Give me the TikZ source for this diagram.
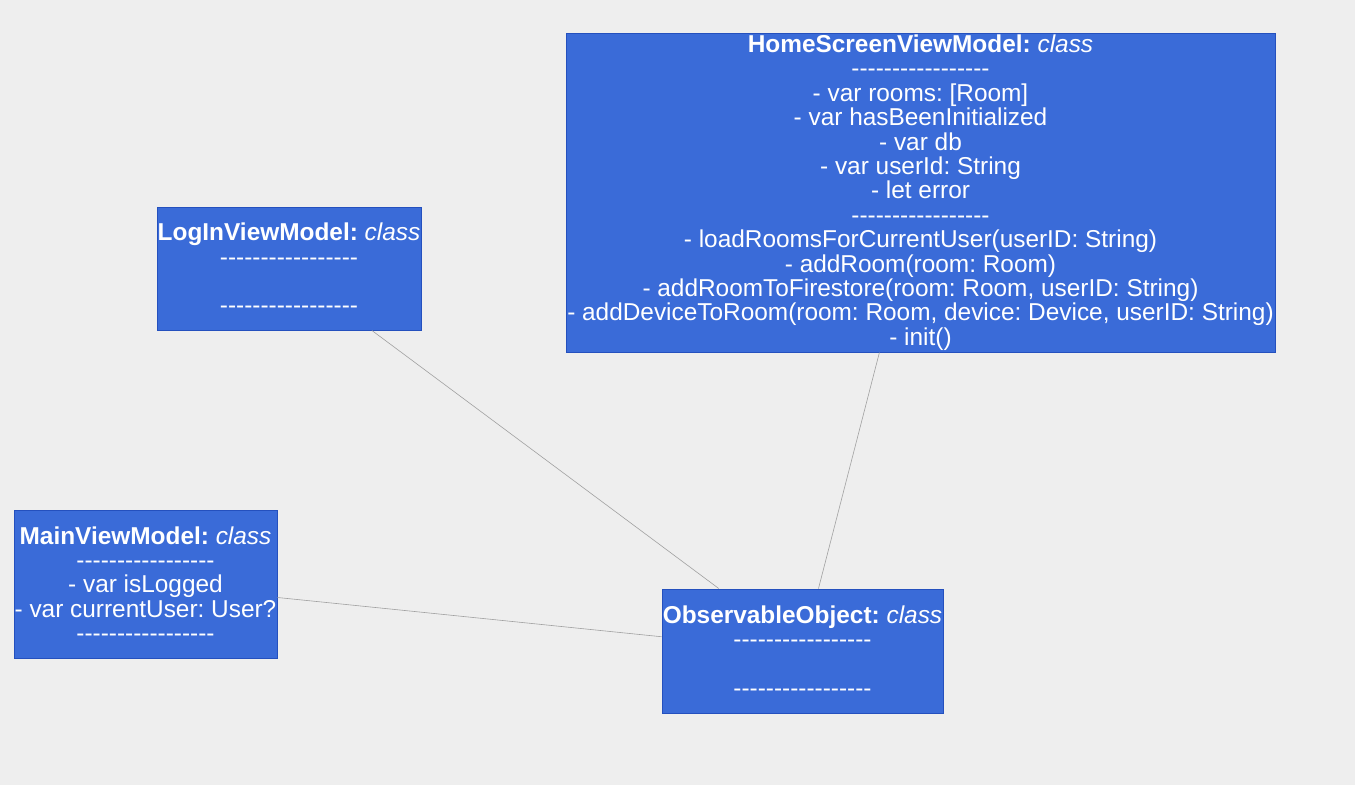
\documentclass[tikz,border=0pt]{standalone}
\usepackage{fontspec}
\setmainfont{Liberation Sans}[Ligatures=TeXOff]
\frenchspacing
\definecolor{bgc}{RGB}{238,238,238}
\definecolor{boxfill}{RGB}{58,107,216}
\definecolor{boxline}{RGB}{36,80,190}
\definecolor{linkc}{RGB}{160,160,160}
\tikzset{
  umlbox/.style={draw=boxline, fill=boxfill, line width=1pt, text=white,
    align=center, inner sep=0pt, font=\fontsize{24.4}{24.4}\selectfont\frenchspacing},
  link/.style={draw=linkc, line width=0.6pt}
}
\begin{document}
\begin{tikzpicture}[x=1pt,y=-1pt]
\path[fill=bgc] (0,0) rectangle (1355,785);
\useasboundingbox (0,0) rectangle (1355,785);

\node[umlbox, minimum width=709pt, minimum height=319pt] (home) at (920.5,192.5)
 {\textbf{HomeScreenViewModel:} \textit{class}\\
  -----------------\\
  - var rooms: [Room]\\
  - var hasBeenInitialized\\
  - var db\\
  - var userId: String\\
  - let error\\
  -----------------\\
  - loadRoomsForCurrentUser(userID: String)\\
  - addRoom(room: Room)\\
  - addRoomToFirestore(room: Room, userID: String)\\
  - addDeviceToRoom(room: Room, device: Device, userID: String)\\
  - init()};

\node[umlbox, minimum width=264pt, minimum height=123pt] (login) at (289,268.5)
 {\textbf{LogInViewModel:} \textit{class}\\
  -----------------\\
  \strut\\
  -----------------};

\node[umlbox, minimum width=263pt, minimum height=148pt] (main) at (145.5,584)
 {\textbf{MainViewModel:} \textit{class}\\
  -----------------\\
  - var isLogged\\
  - var currentUser: User?\\
  -----------------};

\node[umlbox, minimum width=281pt, minimum height=124pt] (obs) at (802.5,651)
 {\textbf{ObservableObject:} \textit{class}\\
  -----------------\\
  \strut\\
  -----------------};

\draw[link] (login) -- (obs);
\draw[link] (home) -- (obs);
\draw[link] (main) -- (obs);
\end{tikzpicture}
\end{document}
